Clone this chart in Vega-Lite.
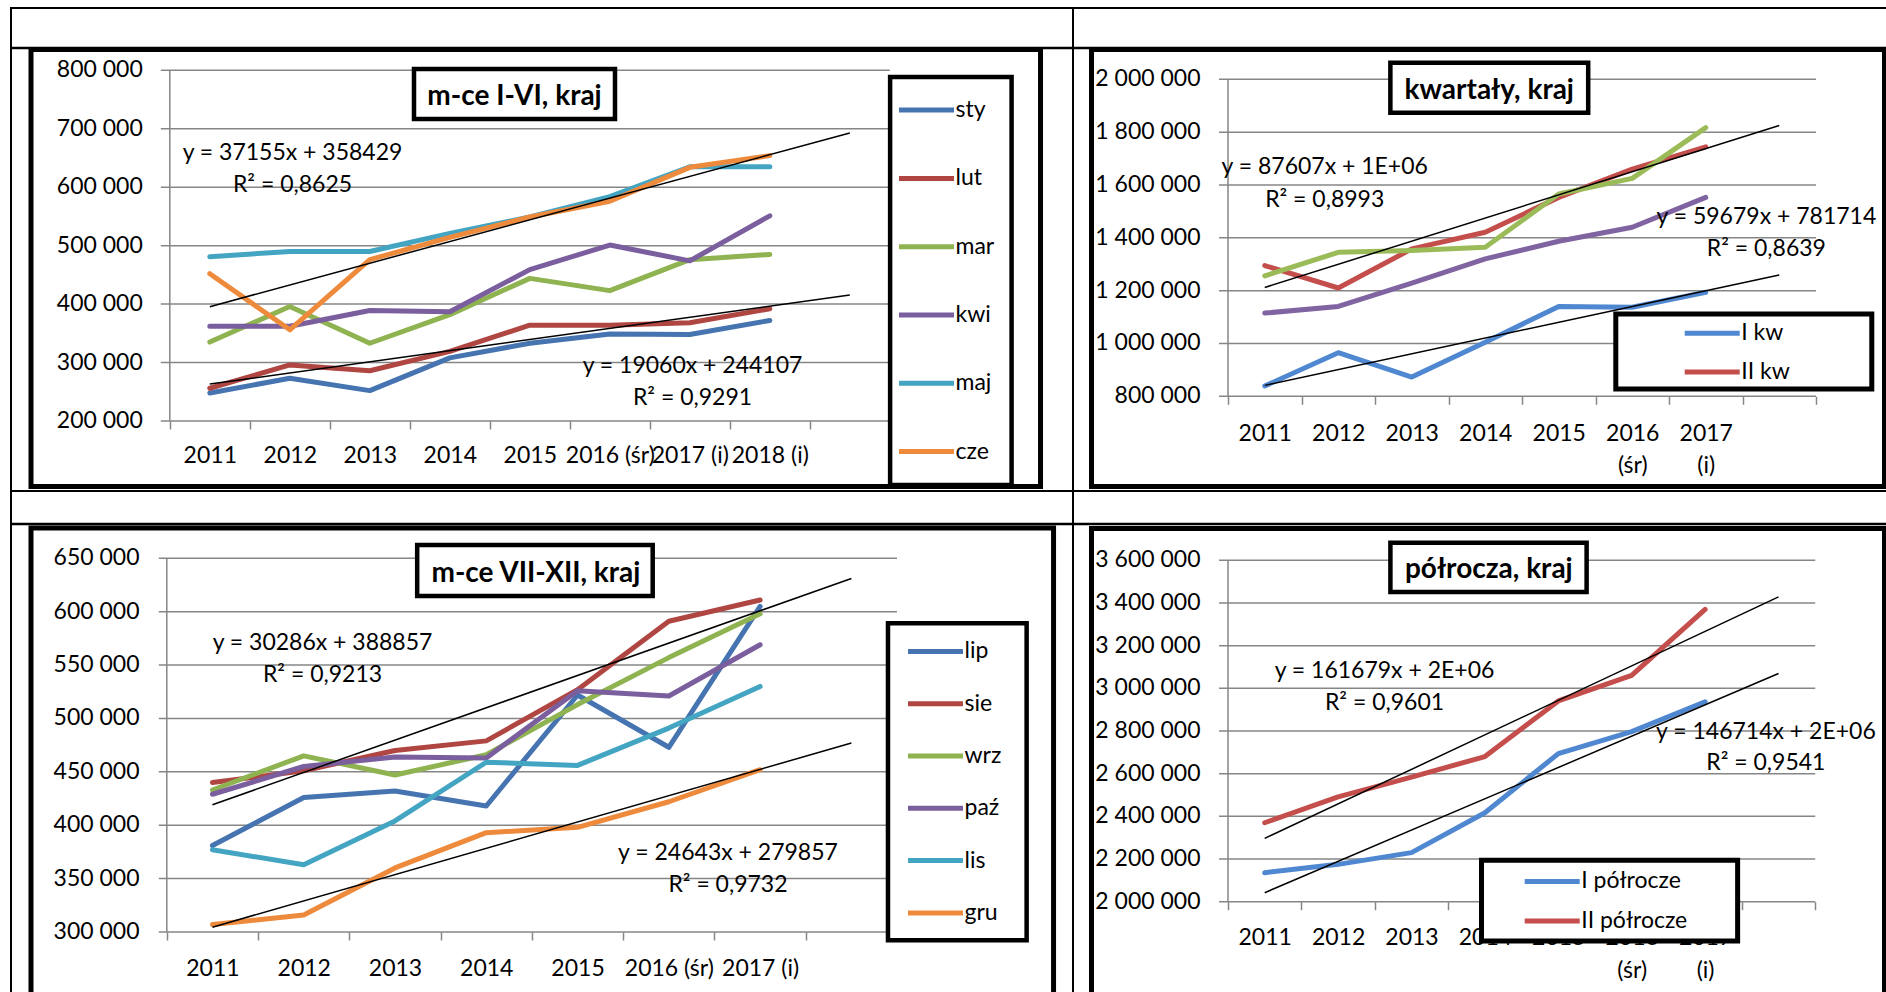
{
"$schema": "https://vega.github.io/schema/vega-lite/v6.json",
"padding": {"left": 8, "top": 7, "right": 1, "bottom": 0},
"background": "white",
"columns": 2,
"spacing": 0,
"bounds": "flush",
"resolve": {"scale": {"color": "independent"}, "legend": {"color": "independent"}},
"config": {
  "font": "Lato",
  "view": {"stroke": null},
  "locale": {"number": {"decimal": ",", "thousands": " ", "grouping": [3], "currency": ["", ""]}},
  "axis": {"labelFont": "Lato", "labelFontSize": 23, "labelColor": "black", "grid": false, "domain": false, "labelFlush": false, "labelOverlap": false, "labelBound": false},
  "legend": {"padding": 0, "symbolType": "M-2.5,0H2.5", "symbolSize": 484, "symbolStrokeWidth": 5, "symbolOffset": 14, "labelOffset": 15.5, "labelFont": "Lato", "labelFontSize": 23, "labelColor": "black", "labelLimit": 400},
  "text": {"font": "Lato", "fontSize": 23, "color": "black"}
},
"datasets": {
  "tl": [
    {"s":"sty","x":1,"v":248000},{"s":"sty","x":2,"v":273000},{"s":"sty","x":3,"v":252000},{"s":"sty","x":4,"v":308000},{"s":"sty","x":5,"v":333000},{"s":"sty","x":6,"v":349000},{"s":"sty","x":7,"v":348000},{"s":"sty","x":8,"v":372000},
    {"s":"lut","x":1,"v":256000},{"s":"lut","x":2,"v":296000},{"s":"lut","x":3,"v":286000},{"s":"lut","x":4,"v":319000},{"s":"lut","x":5,"v":364000},{"s":"lut","x":6,"v":364000},{"s":"lut","x":7,"v":368000},{"s":"lut","x":8,"v":392000},
    {"s":"mar","x":1,"v":335000},{"s":"mar","x":2,"v":396000},{"s":"mar","x":3,"v":333000},{"s":"mar","x":4,"v":382000},{"s":"mar","x":5,"v":444000},{"s":"mar","x":6,"v":423000},{"s":"mar","x":7,"v":476000},{"s":"mar","x":8,"v":485000},
    {"s":"kwi","x":1,"v":362000},{"s":"kwi","x":2,"v":362000},{"s":"kwi","x":3,"v":389000},{"s":"kwi","x":4,"v":387000},{"s":"kwi","x":5,"v":459000},{"s":"kwi","x":6,"v":501000},{"s":"kwi","x":7,"v":474000},{"s":"kwi","x":8,"v":551000},
    {"s":"maj","x":1,"v":481000},{"s":"maj","x":2,"v":490000},{"s":"maj","x":3,"v":490000},{"s":"maj","x":4,"v":521000},{"s":"maj","x":5,"v":549000},{"s":"maj","x":6,"v":584000},{"s":"maj","x":7,"v":635000},{"s":"maj","x":8,"v":635000},
    {"s":"cze","x":1,"v":452000},{"s":"cze","x":2,"v":356000},{"s":"cze","x":3,"v":476000},{"s":"cze","x":4,"v":514000},{"s":"cze","x":5,"v":549000},{"s":"cze","x":6,"v":576000},{"s":"cze","x":7,"v":634000},{"s":"cze","x":8,"v":654000}
  ],
  "tr": [
    {"s":"I kw","x":1,"v":839000},{"s":"I kw","x":2,"v":965000},{"s":"I kw","x":3,"v":873000},{"s":"I kw","x":4,"v":1005000},{"s":"I kw","x":5,"v":1140000},{"s":"I kw","x":6,"v":1137000},{"s":"I kw","x":7,"v":1194000},
    {"s":"II kw","x":1,"v":1295000},{"s":"II kw","x":2,"v":1210000},{"s":"II kw","x":3,"v":1358000},{"s":"II kw","x":4,"v":1421000},{"s":"II kw","x":5,"v":1553000},{"s":"II kw","x":6,"v":1660000},{"s":"II kw","x":7,"v":1744000},
    {"s":"III kw","x":1,"v":1256000},{"s":"III kw","x":2,"v":1345000},{"s":"III kw","x":3,"v":1352000},{"s":"III kw","x":4,"v":1364000},{"s":"III kw","x":5,"v":1566000},{"s":"III kw","x":6,"v":1625000},{"s":"III kw","x":7,"v":1817000},
    {"s":"IV kw","x":1,"v":1115000},{"s":"IV kw","x":2,"v":1140000},{"s":"IV kw","x":3,"v":1228000},{"s":"IV kw","x":4,"v":1320000},{"s":"IV kw","x":5,"v":1387000},{"s":"IV kw","x":6,"v":1440000},{"s":"IV kw","x":7,"v":1553000}
  ],
  "bl": [
    {"s":"lip","x":1,"v":381000},{"s":"lip","x":2,"v":426000},{"s":"lip","x":3,"v":432000},{"s":"lip","x":4,"v":418000},{"s":"lip","x":5,"v":522000},{"s":"lip","x":6,"v":473000},{"s":"lip","x":7,"v":605000},
    {"s":"sie","x":1,"v":440000},{"s":"sie","x":2,"v":451000},{"s":"sie","x":3,"v":470000},{"s":"sie","x":4,"v":479000},{"s":"sie","x":5,"v":527000},{"s":"sie","x":6,"v":591000},{"s":"sie","x":7,"v":611000},
    {"s":"wrz","x":1,"v":433000},{"s":"wrz","x":2,"v":465000},{"s":"wrz","x":3,"v":447000},{"s":"wrz","x":4,"v":466000},{"s":"wrz","x":5,"v":513000},{"s":"wrz","x":6,"v":557000},{"s":"wrz","x":7,"v":598000},
    {"s":"paź","x":1,"v":429000},{"s":"paź","x":2,"v":455000},{"s":"paź","x":3,"v":464000},{"s":"paź","x":4,"v":463000},{"s":"paź","x":5,"v":526000},{"s":"paź","x":6,"v":521000},{"s":"paź","x":7,"v":569000},
    {"s":"lis","x":1,"v":377000},{"s":"lis","x":2,"v":363000},{"s":"lis","x":3,"v":404000},{"s":"lis","x":4,"v":459000},{"s":"lis","x":5,"v":456000},{"s":"lis","x":6,"v":491000},{"s":"lis","x":7,"v":530000},
    {"s":"gru","x":1,"v":307000},{"s":"gru","x":2,"v":316000},{"s":"gru","x":3,"v":360000},{"s":"gru","x":4,"v":393000},{"s":"gru","x":5,"v":398000},{"s":"gru","x":6,"v":422000},{"s":"gru","x":7,"v":452000}
  ],
  "br": [
    {"s":"I półrocze","x":1,"v":2136000},{"s":"I półrocze","x":2,"v":2175000},{"s":"I półrocze","x":3,"v":2230000},{"s":"I półrocze","x":4,"v":2417000},{"s":"I półrocze","x":5,"v":2694000},{"s":"I półrocze","x":6,"v":2797000},{"s":"I półrocze","x":7,"v":2937000},
    {"s":"II półrocze","x":1,"v":2370000},{"s":"II półrocze","x":2,"v":2491000},{"s":"II półrocze","x":3,"v":2584000},{"s":"II półrocze","x":4,"v":2680000},{"s":"II półrocze","x":5,"v":2941000},{"s":"II półrocze","x":6,"v":3061000},{"s":"II półrocze","x":7,"v":3370000}
  ],
  "gtl": [{"g":200000},{"g":300000},{"g":400000},{"g":500000},{"g":600000},{"g":700000},{"g":800000}],
  "gtr": [{"g":800000},{"g":1000000},{"g":1200000},{"g":1400000},{"g":1600000},{"g":1800000},{"g":2000000}],
  "gbl": [{"g":300000},{"g":350000},{"g":400000},{"g":450000},{"g":500000},{"g":550000},{"g":600000},{"g":650000}],
  "gbr": [{"g":2000000},{"g":2200000},{"g":2400000},{"g":2600000},{"g":2800000},{"g":3000000},{"g":3200000},{"g":3400000},{"g":3600000}]
},
"concat": [
{
  "width": 1062, "height": 483,
  "view": {"stroke": "black", "strokeWidth": 2},
  "resolve": {"axis": {"x": "independent"}},
  "layer": [
    {"data": {"values": [{}]}, "mark": {"type": "rule", "color": "black", "strokeWidth": 2.5},
     "encoding": {"y": {"datum": 838153, "type": "quantitative", "scale": {"domain": [80229, 906589], "nice": false, "zero": false}, "axis": null}}},
    {"data": {"values": [{}]}, "mark": {"type": "rect", "fillOpacity": 0, "stroke": "black", "strokeWidth": 5},
     "encoding": {"x": {"datum": -1.235, "type": "quantitative", "scale": {"domain": [-1.485, 11.79], "nice": false, "zero": false}, "axis": null}, "x2": {"datum": 11.384},
                  "y": {"datum": 835587, "type": "quantitative", "scale": {"domain": [80229, 906589], "nice": false, "zero": false}, "axis": null}, "y2": {"datum": 87923}}},
    {"data": {"name": "gtl"},
     "mark": {"type": "rule", "color": "#868686", "strokeWidth": 1.5},
     "encoding": {
       "y": {"field": "g", "type": "quantitative", "scale": {"domain": [80229, 906589], "nice": false, "zero": false}, "axis": null},
       "x": {"datum": 0.3875, "type": "quantitative", "scale": {"domain": [-1.485, 11.79], "nice": false, "zero": false},
             "axis": {"orient": "bottom", "offset": -70, "values": [0.5,1.5,2.5,3.5,4.5,5.5,6.5,7.5,8.5,9.5], "labels": false, "ticks": true, "tickSize": 8, "tickColor": "#868686", "tickWidth": 1.5, "title": null}},
       "x2": {"datum": 9.5}}},
    {"data": {"name": "gtl"},
     "mark": {"type": "text", "align": "right", "baseline": "middle"},
     "encoding": {
       "y": {"field": "g", "type": "quantitative", "scale": {"domain": [80229, 906589], "nice": false, "zero": false}, "axis": null},
       "x": {"datum": 0.1625, "type": "quantitative", "scale": {"domain": [-1.485, 11.79], "nice": false, "zero": false}, "axis": null},
       "text": {"field": "g", "type": "quantitative", "format": ",d"}}},
    {"data": {"values": [{}]}, "mark": {"type": "rule", "color": "#868686", "strokeWidth": 1.5},
     "encoding": {"x": {"datum": 0.5, "type": "quantitative", "scale": {"domain": [-1.485, 11.79], "nice": false, "zero": false}, "axis": null},
                  "y": {"datum": 200000, "type": "quantitative", "scale": {"domain": [80229, 906589], "nice": false, "zero": false}, "axis": null}, "y2": {"datum": 800000}}},
    {"data": {"values": [{}]}, "mark": {"type": "rect", "fill": "white", "stroke": "black", "strokeWidth": 4.5},
     "encoding": {"x": {"datum": 3.5525, "type": "quantitative", "scale": {"domain": [-1.485, 11.79], "nice": false, "zero": false}, "axis": null}, "x2": {"datum": 6.065},
                  "y": {"datum": 802224, "type": "quantitative", "scale": {"domain": [80229, 906589], "nice": false, "zero": false}, "axis": null}, "y2": {"datum": 716679}}},
    {"data": {"values": [{}]}, "mark": {"type": "text", "fontSize": 28, "fontWeight": "bold", "align": "center", "baseline": "alphabetic"},
     "encoding": {"x": {"datum": 4.809, "type": "quantitative", "scale": {"domain": [-1.485, 11.79], "nice": false, "zero": false}, "axis": null},
                  "y": {"datum": 740632, "type": "quantitative", "scale": {"domain": [80229, 906589], "nice": false, "zero": false}, "axis": null},
                  "text": {"value": "m-ce I-VI, kraj"}}},
    {"data": {"name": "tl"}, "mark": {"type": "line", "strokeWidth": 5, "strokeCap": "round", "strokeJoin": "round"},
     "encoding": {
       "x": {"field": "x", "type": "quantitative", "scale": {"domain": [-1.485, 11.79], "nice": false, "zero": false},
             "axis": {"orient": "bottom", "offset": -70, "values": [1,2,3,4,5,6,7,8], "labelExpr": "['','2011','2012','2013','2014','2015','2016 (śr)','2017 (i)','2018 (i)'][datum.value]", "ticks": false, "tickSize": 0, "labelPadding": 23.5, "title": null}},
       "y": {"field": "v", "type": "quantitative", "scale": {"domain": [80229, 906589], "nice": false, "zero": false}, "axis": null},
       "color": {"field": "s", "type": "nominal", "scale": {"domain": ["sty","lut","mar","kwi","maj","cze"], "range": ["#4674B0","#B04642","#8FB350","#7A5E9E","#44A5C2","#EE8A3C"]},
                 "legend": {"title": null, "orient": "none", "direction": "vertical", "legendX": 888, "legendY": 88.6, "rowPadding": 42.3}}}},
    {"data": {"values": [{"x1":1,"v1":395584,"x2":9,"v2":692824},{"x1":1,"v1":263167,"x2":9,"v2":415647}]},
     "mark": {"type": "rule", "color": "black", "strokeWidth": 1.5},
     "encoding": {"x": {"field": "x1", "type": "quantitative", "scale": {"domain": [-1.485, 11.79], "nice": false, "zero": false}, "axis": null},
                  "y": {"field": "v1", "type": "quantitative", "scale": {"domain": [80229, 906589], "nice": false, "zero": false}, "axis": null},
                  "x2": {"field": "x2"}, "y2": {"field": "v2"}}},
    {"data": {"values": [{}]}, "mark": {"type": "text", "align": "center", "baseline": "alphabetic", "lineHeight": 32},
     "encoding": {"x": {"datum": 2.034, "type": "quantitative", "scale": {"domain": [-1.485, 11.79], "nice": false, "zero": false}, "axis": null},
                  "y": {"datum": 646019, "type": "quantitative", "scale": {"domain": [80229, 906589], "nice": false, "zero": false}, "axis": null},
                  "text": {"value": ["y = 37155x + 358429", "R² = 0,8625"]}}},
    {"data": {"values": [{}]}, "mark": {"type": "text", "align": "center", "baseline": "alphabetic", "lineHeight": 32},
     "encoding": {"x": {"datum": 7.034, "type": "quantitative", "scale": {"domain": [-1.485, 11.79], "nice": false, "zero": false}, "axis": null},
                  "y": {"datum": 282624, "type": "quantitative", "scale": {"domain": [80229, 906589], "nice": false, "zero": false}, "axis": null},
                  "text": {"value": ["y = 19060x + 244107", "R² = 0,9291"]}}},
    {"data": {"values": [{}]}, "mark": {"type": "rect", "fill": "white", "stroke": "black", "strokeWidth": 4.5},
     "encoding": {"x": {"datum": 9.504, "type": "quantitative", "scale": {"domain": [-1.485, 11.79], "nice": false, "zero": false}, "axis": null}, "x2": {"datum": 11.0225},
                  "y": {"datum": 788537, "type": "quantitative", "scale": {"domain": [80229, 906589], "nice": false, "zero": false}, "axis": null}, "y2": {"datum": 90490}}}
  ]
},
{
  "width": 814, "height": 483,
  "view": {"stroke": "black", "strokeWidth": 2},
  "resolve": {"axis": {"x": "independent"}},
  "layer": [
    {"data": {"values": [{}]}, "mark": {"type": "rule", "color": "black", "strokeWidth": 2.5},
     "encoding": {"y": {"datum": 2118486, "type": "quantitative", "scale": {"domain": [441510, 2269906], "nice": false, "zero": false}, "axis": null}}},
    {"data": {"values": [{}]}, "mark": {"type": "rect", "fillOpacity": 0, "stroke": "black", "strokeWidth": 5},
     "encoding": {"x": {"datum": -1.357, "type": "quantitative", "scale": {"domain": [-1.609, 9.466], "nice": false, "zero": false}, "axis": null}, "x2": {"datum": 9.432},
                  "y": {"datum": 2112808, "type": "quantitative", "scale": {"domain": [441510, 2269906], "nice": false, "zero": false}, "axis": null}, "y2": {"datum": 458544}}},
    {"data": {"name": "gtr"},
     "mark": {"type": "rule", "color": "#868686", "strokeWidth": 1.5},
     "encoding": {
       "y": {"field": "g", "type": "quantitative", "scale": {"domain": [441510, 2269906], "nice": false, "zero": false}, "axis": null},
       "x": {"datum": 0.3776, "type": "quantitative", "scale": {"domain": [-1.609, 9.466], "nice": false, "zero": false},
             "axis": {"orient": "bottom", "offset": -94.7, "values": [0.5,1.5,2.5,3.5,4.5,5.5,6.5,7.5,8.5], "labels": false, "ticks": true, "tickSize": 8, "tickColor": "#868686", "tickWidth": 1.5, "title": null}},
       "x2": {"datum": 8.5}}},
    {"data": {"name": "gtr"},
     "mark": {"type": "text", "align": "right", "baseline": "middle"},
     "encoding": {
       "y": {"field": "g", "type": "quantitative", "scale": {"domain": [441510, 2269906], "nice": false, "zero": false}, "axis": null},
       "x": {"datum": 0.1259, "type": "quantitative", "scale": {"domain": [-1.609, 9.466], "nice": false, "zero": false}, "axis": null},
       "text": {"field": "g", "type": "quantitative", "format": ",d"}}},
    {"data": {"values": [{}]}, "mark": {"type": "rule", "color": "#868686", "strokeWidth": 1.5},
     "encoding": {"x": {"datum": 0.5, "type": "quantitative", "scale": {"domain": [-1.609, 9.466], "nice": false, "zero": false}, "axis": null},
                  "y": {"datum": 800000, "type": "quantitative", "scale": {"domain": [441510, 2269906], "nice": false, "zero": false}, "axis": null}, "y2": {"datum": 2000000}}},
    {"data": {"values": [{}]}, "mark": {"type": "rect", "fill": "white", "stroke": "black", "strokeWidth": 4.5},
     "encoding": {"x": {"datum": 2.709, "type": "quantitative", "scale": {"domain": [-1.609, 9.466], "nice": false, "zero": false}, "axis": null}, "x2": {"datum": 5.4006},
                  "y": {"datum": 2062839, "type": "quantitative", "scale": {"domain": [441510, 2269906], "nice": false, "zero": false}, "axis": null}, "y2": {"datum": 1873564}}},
    {"data": {"values": [{}]}, "mark": {"type": "text", "fontSize": 28, "fontWeight": "bold", "align": "center", "baseline": "alphabetic"},
     "encoding": {"x": {"datum": 4.0549, "type": "quantitative", "scale": {"domain": [-1.609, 9.466], "nice": false, "zero": false}, "axis": null},
                  "y": {"datum": 1924290, "type": "quantitative", "scale": {"domain": [441510, 2269906], "nice": false, "zero": false}, "axis": null},
                  "text": {"value": "kwartały, kraj"}}},
    {"data": {"name": "tr"}, "mark": {"type": "line", "strokeWidth": 5, "strokeCap": "round", "strokeJoin": "round"},
     "encoding": {
       "x": {"field": "x", "type": "quantitative", "scale": {"domain": [-1.609, 9.466], "nice": false, "zero": false},
             "axis": {"orient": "bottom", "offset": -94.7, "values": [1,2,3,4,5,6,7], "labelExpr": "['','2011','2012','2013','2014','2015',['2016','(śr)'],['2017','(i)']][datum.value]", "labelLineHeight": 32, "ticks": false, "tickSize": 0, "labelPadding": 26.5, "title": null}},
       "y": {"field": "v", "type": "quantitative", "scale": {"domain": [441510, 2269906], "nice": false, "zero": false}, "axis": null},
       "color": {"field": "s", "type": "nominal", "scale": {"domain": ["I kw","II kw","III kw","IV kw"], "range": ["#4F88D0","#C44E4B","#9BBB59","#8064A2"]},
                 "legend": {"title": null, "orient": "none", "direction": "vertical", "legendX": 611.7, "legendY": 311.8, "rowPadding": 12.6, "values": ["I kw","II kw"]}}}},
    {"data": {"values": [{"x1":1,"v1":1212107,"x2":8,"v2":1825356},{"x1":1,"v1":841393,"x2":8,"v2":1259146}]},
     "mark": {"type": "rule", "color": "black", "strokeWidth": 1.5},
     "encoding": {"x": {"field": "x1", "type": "quantitative", "scale": {"domain": [-1.609, 9.466], "nice": false, "zero": false}, "axis": null},
                  "y": {"field": "v1", "type": "quantitative", "scale": {"domain": [441510, 2269906], "nice": false, "zero": false}, "axis": null},
                  "x2": {"field": "x2"}, "y2": {"field": "v2"}}},
    {"data": {"values": [{}]}, "mark": {"type": "text", "align": "center", "baseline": "alphabetic", "lineHeight": 33},
     "encoding": {"x": {"datum": 1.8155, "type": "quantitative", "scale": {"domain": [-1.609, 9.466], "nice": false, "zero": false}, "axis": null},
                  "y": {"datum": 1640378, "type": "quantitative", "scale": {"domain": [441510, 2269906], "nice": false, "zero": false}, "axis": null},
                  "text": {"value": ["y = 87607x + 1E+06", "R² = 0,8993"]}}},
    {"data": {"values": [{}]}, "mark": {"type": "text", "align": "center", "baseline": "alphabetic", "lineHeight": 32},
     "encoding": {"x": {"datum": 7.825, "type": "quantitative", "scale": {"domain": [-1.609, 9.466], "nice": false, "zero": false}, "axis": null},
                  "y": {"datum": 1453374, "type": "quantitative", "scale": {"domain": [441510, 2269906], "nice": false, "zero": false}, "axis": null},
                  "text": {"value": ["y = 59679x + 781714", "R² = 0,8639"]}}},
    {"data": {"values": [{}]}, "mark": {"type": "rect", "fill": "white", "stroke": "black", "strokeWidth": 5},
     "encoding": {"x": {"datum": 5.776, "type": "quantitative", "scale": {"domain": [-1.609, 9.466], "nice": false, "zero": false}, "axis": null}, "x2": {"datum": 9.259},
                  "y": {"datum": 1111525, "type": "quantitative", "scale": {"domain": [441510, 2269906], "nice": false, "zero": false}, "axis": null}, "y2": {"datum": 827613}}}
  ]
},
{
  "width": 1062, "height": 501,
  "resolve": {"axis": {"x": "independent"}},
  "layer": [
    {"data": {"values": [{}]}, "mark": {"type": "rule", "color": "black", "strokeWidth": 2},
     "encoding": {"x": {"datum": -1.207, "type": "quantitative", "scale": {"domain": [-1.207, 10.428], "nice": false, "zero": false}, "axis": null}}},
    {"data": {"values": [{}]}, "mark": {"type": "rule", "color": "black", "strokeWidth": 2},
     "encoding": {"x": {"datum": 10.428, "type": "quantitative", "scale": {"domain": [-1.207, 10.428], "nice": false, "zero": false}, "axis": null}}},
    {"data": {"values": [{}]}, "mark": {"type": "rule", "color": "black", "strokeWidth": 2.5},
     "encoding": {"y": {"datum": 682125, "type": "quantitative", "scale": {"domain": [243804, 713033], "nice": false, "zero": false}, "axis": null}}},
    {"data": {"values": [{}]}, "mark": {"type": "rect", "fillOpacity": 0, "stroke": "black", "strokeWidth": 5, "clip": true},
     "encoding": {"x": {"datum": -0.988, "type": "quantitative", "scale": {"domain": [-1.207, 10.428], "nice": false, "zero": false}, "axis": null}, "x2": {"datum": 10.215},
                  "y": {"datum": 678379, "type": "quantitative", "scale": {"domain": [243804, 713033], "nice": false, "zero": false}, "axis": null}, "y2": {"datum": 150000}}},
    {"data": {"name": "gbl"},
     "mark": {"type": "rule", "color": "#868686", "strokeWidth": 1.5},
     "encoding": {
       "y": {"field": "g", "type": "quantitative", "scale": {"domain": [243804, 713033], "nice": false, "zero": false}, "axis": null},
       "x": {"datum": 0.4124, "type": "quantitative", "scale": {"domain": [-1.207, 10.428], "nice": false, "zero": false},
             "axis": {"orient": "bottom", "offset": -60, "values": [0.5,1.5,2.5,3.5,4.5,5.5,6.5,7.5,8.5], "labels": false, "ticks": true, "tickSize": 8, "tickColor": "#868686", "tickWidth": 1.5, "title": null}},
       "x2": {"datum": 8.5}}},
    {"data": {"name": "gbl"},
     "mark": {"type": "text", "align": "right", "baseline": "middle"},
     "encoding": {
       "y": {"field": "g", "type": "quantitative", "scale": {"domain": [243804, 713033], "nice": false, "zero": false}, "axis": null},
       "x": {"datum": 0.2009, "type": "quantitative", "scale": {"domain": [-1.207, 10.428], "nice": false, "zero": false}, "axis": null},
       "text": {"field": "g", "type": "quantitative", "format": ",d"}}},
    {"data": {"values": [{}]}, "mark": {"type": "rule", "color": "#868686", "strokeWidth": 1.5},
     "encoding": {"x": {"datum": 0.5, "type": "quantitative", "scale": {"domain": [-1.207, 10.428], "nice": false, "zero": false}, "axis": null},
                  "y": {"datum": 300000, "type": "quantitative", "scale": {"domain": [243804, 713033], "nice": false, "zero": false}, "axis": null}, "y2": {"datum": 650000}}},
    {"data": {"values": [{}]}, "mark": {"type": "rect", "fill": "white", "stroke": "black", "strokeWidth": 4.5},
     "encoding": {"x": {"datum": 3.243, "type": "quantitative", "scale": {"domain": [-1.207, 10.428], "nice": false, "zero": false}, "axis": null}, "x2": {"datum": 5.8234},
                  "y": {"datum": 662457, "type": "quantitative", "scale": {"domain": [243804, 713033], "nice": false, "zero": false}, "axis": null}, "y2": {"datum": 614690}}},
    {"data": {"values": [{}]}, "mark": {"type": "text", "fontSize": 28, "fontWeight": "bold", "align": "center", "baseline": "alphabetic"},
     "encoding": {"x": {"datum": 4.544, "type": "quantitative", "scale": {"domain": [-1.207, 10.428], "nice": false, "zero": false}, "axis": null},
                  "y": {"datum": 628084, "type": "quantitative", "scale": {"domain": [243804, 713033], "nice": false, "zero": false}, "axis": null},
                  "text": {"value": "m-ce VII-XII, kraj"}}},
    {"data": {"name": "bl"}, "mark": {"type": "line", "strokeWidth": 5, "strokeCap": "round", "strokeJoin": "round"},
     "encoding": {
       "x": {"field": "x", "type": "quantitative", "scale": {"domain": [-1.207, 10.428], "nice": false, "zero": false},
             "axis": {"orient": "bottom", "offset": -60, "values": [1,2,3,4,5,6,7], "labelExpr": "['','2011','2012','2013','2014','2015','2016 (śr)','2017 (i)'][datum.value]", "ticks": false, "tickSize": 0, "labelPadding": 25.7, "title": null}},
       "y": {"field": "v", "type": "quantitative", "scale": {"domain": [243804, 713033], "nice": false, "zero": false}, "axis": null},
       "color": {"field": "s", "type": "nominal", "scale": {"domain": ["lip","sie","wrz","paź","lis","gru"], "range": ["#4674B0","#B04642","#8FB350","#7A5E9E","#44A5C2","#EE8A3C"]},
                 "legend": {"title": null, "orient": "none", "direction": "vertical", "legendX": 897, "legendY": 146.9, "rowPadding": 26.3}}}},
    {"data": {"values": [{"x1":1,"v1":419143,"x2":8,"v2":631145},{"x1":1,"v1":304500,"x2":8,"v2":477001}]},
     "mark": {"type": "rule", "color": "black", "strokeWidth": 1.5},
     "encoding": {"x": {"field": "x1", "type": "quantitative", "scale": {"domain": [-1.207, 10.428], "nice": false, "zero": false}, "axis": null},
                  "y": {"field": "v1", "type": "quantitative", "scale": {"domain": [243804, 713033], "nice": false, "zero": false}, "axis": null},
                  "x2": {"field": "x2"}, "y2": {"field": "v2"}}},
    {"data": {"values": [{}]}, "mark": {"type": "text", "align": "center", "baseline": "alphabetic", "lineHeight": 31.5},
     "encoding": {"x": {"datum": 2.2058, "type": "quantitative", "scale": {"domain": [-1.207, 10.428], "nice": false, "zero": false}, "axis": null},
                  "y": {"datum": 563833, "type": "quantitative", "scale": {"domain": [243804, 713033], "nice": false, "zero": false}, "axis": null},
                  "text": {"value": ["y = 30286x + 388857", "R² = 0,9213"]}}},
    {"data": {"values": [{}]}, "mark": {"type": "text", "align": "center", "baseline": "alphabetic", "lineHeight": 32},
     "encoding": {"x": {"datum": 6.648, "type": "quantitative", "scale": {"domain": [-1.207, 10.428], "nice": false, "zero": false}, "axis": null},
                  "y": {"datum": 367147, "type": "quantitative", "scale": {"domain": [243804, 713033], "nice": false, "zero": false}, "axis": null},
                  "text": {"value": ["y = 24643x + 279857", "R² = 0,9732"]}}},
    {"data": {"values": [{}]}, "mark": {"type": "rect", "fill": "white", "stroke": "black", "strokeWidth": 4.5},
     "encoding": {"x": {"datum": 8.401, "type": "quantitative", "scale": {"domain": [-1.207, 10.428], "nice": false, "zero": false}, "axis": null}, "x2": {"datum": 9.92},
                  "y": {"datum": 589121, "type": "quantitative", "scale": {"domain": [243804, 713033], "nice": false, "zero": false}, "axis": null}, "y2": {"datum": 292219}}}
  ]
},
{
  "width": 814, "height": 501,
  "resolve": {"axis": {"x": "independent"}},
  "layer": [
    {"data": {"values": [{}]}, "mark": {"type": "rule", "color": "black", "strokeWidth": 2},
     "encoding": {"x": {"datum": 9.478, "type": "quantitative", "scale": {"domain": [-1.6117, 9.478], "nice": false, "zero": false}, "axis": null}}},
    {"data": {"values": [{}]}, "mark": {"type": "rule", "color": "black", "strokeWidth": 2.5},
     "encoding": {"y": {"datum": 3770124, "type": "quantitative", "scale": {"domain": [1576800, 3924781], "nice": false, "zero": false}, "axis": null}}},
    {"data": {"values": [{}]}, "mark": {"type": "rect", "fillOpacity": 0, "stroke": "black", "strokeWidth": 5, "clip": true},
     "encoding": {"x": {"datum": -1.3597, "type": "quantitative", "scale": {"domain": [-1.6117, 9.478], "nice": false, "zero": false}, "axis": null}, "x2": {"datum": 9.444},
                  "y": {"datum": 3749034, "type": "quantitative", "scale": {"domain": [1576800, 3924781], "nice": false, "zero": false}, "axis": null}, "y2": {"datum": 1400000}}},
    {"data": {"name": "gbr"},
     "mark": {"type": "rule", "color": "#868686", "strokeWidth": 1.5},
     "encoding": {
       "y": {"field": "g", "type": "quantitative", "scale": {"domain": [1576800, 3924781], "nice": false, "zero": false}, "axis": null},
       "x": {"datum": 0.3774, "type": "quantitative", "scale": {"domain": [-1.6117, 9.478], "nice": false, "zero": false},
             "axis": {"orient": "bottom", "offset": -90.3, "values": [0.5,1.5,2.5,3.5,4.5,5.5,6.5,7.5,8.5], "labels": false, "ticks": true, "tickSize": 8, "tickColor": "#868686", "tickWidth": 1.5, "title": null}},
       "x2": {"datum": 8.5}}},
    {"data": {"name": "gbr"},
     "mark": {"type": "text", "align": "right", "baseline": "middle"},
     "encoding": {
       "y": {"field": "g", "type": "quantitative", "scale": {"domain": [1576800, 3924781], "nice": false, "zero": false}, "axis": null},
       "x": {"datum": 0.1253, "type": "quantitative", "scale": {"domain": [-1.6117, 9.478], "nice": false, "zero": false}, "axis": null},
       "text": {"field": "g", "type": "quantitative", "format": ",d"}}},
    {"data": {"values": [{}]}, "mark": {"type": "rule", "color": "#868686", "strokeWidth": 1.5},
     "encoding": {"x": {"datum": 0.5, "type": "quantitative", "scale": {"domain": [-1.6117, 9.478], "nice": false, "zero": false}, "axis": null},
                  "y": {"datum": 2000000, "type": "quantitative", "scale": {"domain": [1576800, 3924781], "nice": false, "zero": false}, "axis": null}, "y2": {"datum": 3600000}}},
    {"data": {"values": [{}]}, "mark": {"type": "rect", "fill": "white", "stroke": "black", "strokeWidth": 4.5},
     "encoding": {"x": {"datum": 2.7125, "type": "quantitative", "scale": {"domain": [-1.6117, 9.478], "nice": false, "zero": false}, "axis": null}, "x2": {"datum": 5.3856},
                  "y": {"datum": 3682484, "type": "quantitative", "scale": {"domain": [1576800, 3924781], "nice": false, "zero": false}, "axis": null}, "y2": {"datum": 3451435}}},
    {"data": {"values": [{}]}, "mark": {"type": "text", "fontSize": 28, "fontWeight": "bold", "align": "center", "baseline": "alphabetic"},
     "encoding": {"x": {"datum": 4.053, "type": "quantitative", "scale": {"domain": [-1.6117, 9.478], "nice": false, "zero": false}, "axis": null},
                  "y": {"datum": 3515641, "type": "quantitative", "scale": {"domain": [1576800, 3924781], "nice": false, "zero": false}, "axis": null},
                  "text": {"value": "półrocza, kraj"}}},
    {"data": {"name": "br"}, "mark": {"type": "line", "strokeWidth": 5, "strokeCap": "round", "strokeJoin": "round"},
     "encoding": {
       "x": {"field": "x", "type": "quantitative", "scale": {"domain": [-1.6117, 9.478], "nice": false, "zero": false},
             "axis": {"orient": "bottom", "offset": -90.3, "values": [1,2,3,4,5,6,7], "labelExpr": "['','2011','2012','2013','2014','2015',['2016','(śr)'],['2017','(i)']][datum.value]", "labelLineHeight": 33, "ticks": false, "tickSize": 0, "labelPadding": 24.4, "title": null}},
       "y": {"field": "v", "type": "quantitative", "scale": {"domain": [1576800, 3924781], "nice": false, "zero": false}, "axis": null},
       "color": {"field": "s", "type": "nominal", "scale": {"domain": ["I półrocze","II półrocze"], "range": ["#4F88D0","#C44E4B"]},
                 "legend": {"title": null, "orient": "none", "direction": "vertical", "legendX": 451.7, "legendY": 376.9, "rowPadding": 13.6}}}},
    {"data": {"values": [{"x1":1,"v1":2296879,"x2":8,"v2":3428632},{"x1":1,"v1":2042214,"x2":8,"v2":3069212}]},
     "mark": {"type": "rule", "color": "black", "strokeWidth": 1.5},
     "encoding": {"x": {"field": "x1", "type": "quantitative", "scale": {"domain": [-1.6117, 9.478], "nice": false, "zero": false}, "axis": null},
                  "y": {"field": "v1", "type": "quantitative", "scale": {"domain": [1576800, 3924781], "nice": false, "zero": false}, "axis": null},
                  "x2": {"field": "x2"}, "y2": {"field": "v2"}}},
    {"data": {"values": [{}]}, "mark": {"type": "text", "align": "center", "baseline": "alphabetic", "lineHeight": 32},
     "encoding": {"x": {"datum": 2.632, "type": "quantitative", "scale": {"domain": [-1.6117, 9.478], "nice": false, "zero": false}, "axis": null},
                  "y": {"datum": 3046981, "type": "quantitative", "scale": {"domain": [1576800, 3924781], "nice": false, "zero": false}, "axis": null},
                  "text": {"value": ["y = 161679x + 2E+06", "R² = 0,9601"]}}},
    {"data": {"values": [{}]}, "mark": {"type": "text", "align": "center", "baseline": "alphabetic", "lineHeight": 31},
     "encoding": {"x": {"datum": 7.828, "type": "quantitative", "scale": {"domain": [-1.6117, 9.478], "nice": false, "zero": false}, "axis": null},
                  "y": {"datum": 2761099, "type": "quantitative", "scale": {"domain": [1576800, 3924781], "nice": false, "zero": false}, "axis": null},
                  "text": {"value": ["y = 146714x + 2E+06", "R² = 0,9541"]}}},
    {"data": {"values": [{}]}, "mark": {"type": "rect", "fill": "white", "stroke": "black", "strokeWidth": 5},
     "encoding": {"x": {"datum": 3.9537, "type": "quantitative", "scale": {"domain": [-1.6117, 9.478], "nice": false, "zero": false}, "axis": null}, "x2": {"datum": 7.443},
                  "y": {"datum": 2194020, "type": "quantitative", "scale": {"domain": [1576800, 3924781], "nice": false, "zero": false}, "axis": null}, "y2": {"datum": 1815811}}}
  ]
}
]
}
